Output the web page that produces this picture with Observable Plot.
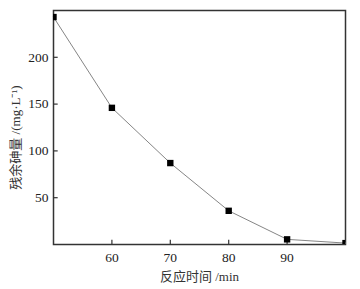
<!DOCTYPE html>
<html><head><meta charset="utf-8">
<script src="https://cdn.jsdelivr.net/npm/d3@7"></script>
<script src="https://cdn.jsdelivr.net/npm/@observablehq/plot@0.6"></script>
<style>body{margin:0;background:#fff}</style>
</head><body><div id="chart"></div>
<script>
const times = [50, 60, 70, 80, 90, 100];
const arsenic = [243, 146, 87, 36, 5.5, 1.5];
const xTicks = [60, 70, 80, 90];
const yTicks = [50, 100, 150, 200];
const xLabel = "反应时间 /min";
const yLabel = "残余砷量 /(mg·L⁻¹)";
const data = times.map((t, i) => ({t, v: arsenic[i]}));
const serif = "Liberation Serif, Noto Sans CJK SC, serif";
const chart = Plot.plot({
  width: 360, height: 289,
  marginLeft: 53, marginRight: 15, marginTop: 10, marginBottom: 45,
  style: {fontFamily: serif, fontSize: "13px", color: "#222", background: "#fff"},
  x: {domain: [50, 100]},
  y: {domain: [0, 250]},
  marks: [
    Plot.frame({stroke: "#333", strokeWidth: 1.5}),
    Plot.axisX({ticks: xTicks, tickSize: 0, tickPadding: 8, label: null, fontSize: 13.5, fontFamily: serif, fill: "#222"}),
    Plot.axisY({ticks: yTicks, tickSize: 0, tickPadding: 5, label: null, fontSize: 13.5, fontFamily: serif, fill: "#222"}),
    Plot.ruleX(xTicks, {x: d => d, y1: 0, y2: 4.5, stroke: "#333", strokeWidth: 1.2}),
    Plot.ruleY(yTicks, {y: d => d, x1: 50, x2: 50.8, stroke: "#333", strokeWidth: 1.2}),
    Plot.text([xLabel], {frameAnchor: "bottom", dy: 36, fontSize: 13, fontFamily: serif, fill: "#333"}),
    Plot.text([yLabel], {frameAnchor: "left", textAnchor: "middle", dx: -38, dy: 10, rotate: -90, fontSize: 13, fontFamily: serif, fill: "#333"}),
    Plot.line(data, {x: "t", y: "v", stroke: "#777", strokeWidth: 0.9}),
    Plot.dot(data, {x: "t", y: "v", symbol: "square", r: 3.6, fill: "#000", stroke: "none", clip: "frame"})
  ]
});
document.getElementById("chart").append(chart);
</script></body></html>
